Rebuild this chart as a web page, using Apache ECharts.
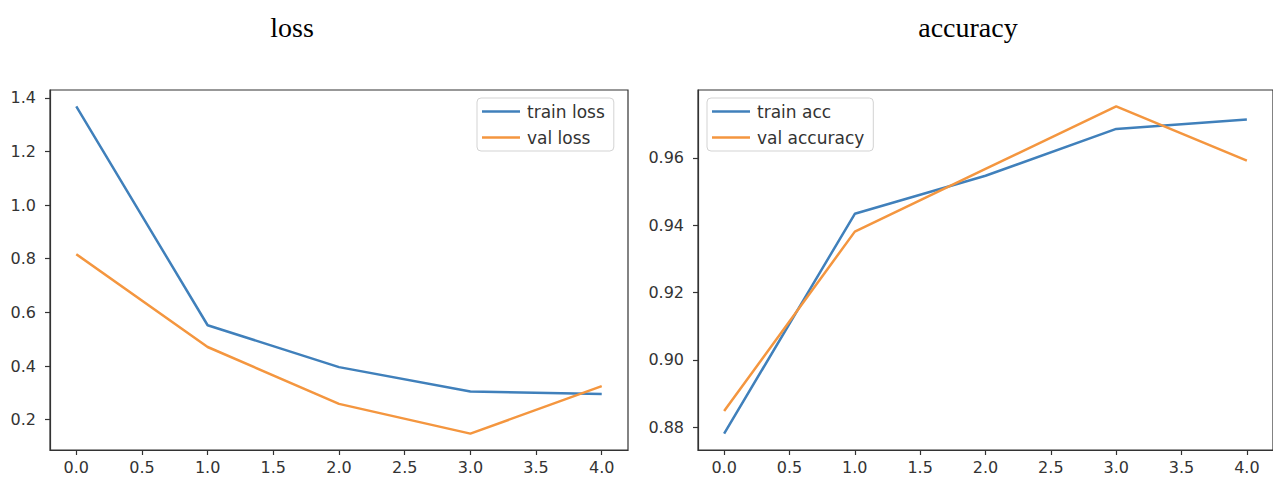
<!DOCTYPE html>
<html>
<head>
<meta charset="utf-8">
<script src="https://cdn.jsdelivr.net/npm/echarts@6/dist/echarts.min.js"></script>
<style>
html,body{margin:0;padding:0;background:#fff;}
#chart{width:1273px;height:477px;}
</style>
</head>
<body>
<div id="chart"></div>
<script>
// ---- data ----
const epochs = [0, 1, 2, 3, 4];
const trainLoss = [1.368, 0.552, 0.396, 0.305, 0.296];
const valLoss = [0.817, 0.471, 0.259, 0.148, 0.325];
const trainAcc = [0.8781, 0.9434, 0.9547, 0.9686, 0.9714];
const valAcc = [0.8848, 0.9381, 0.9567, 0.9753, 0.9592];
const xTicks = [0, 0.5, 1, 1.5, 2, 2.5, 3, 3.5, 4];
const lossTicks = [0.2, 0.4, 0.6, 0.8, 1.0, 1.2, 1.4];
const accTicks = [0.88, 0.90, 0.92, 0.94, 0.96];
const titles = ['loss', 'accuracy'];
const lossNames = ['train loss', 'val loss'];
const accNames = ['train acc', 'val accuracy'];

const BLUE = '#4080bb';
const ORANGE = '#f4963f';
const AX = '#333';
const FONT = 'DejaVu Sans';

function pad(arrs) {
  const all = [].concat(...arrs);
  const lo = Math.min(...all), hi = Math.max(...all);
  const m = (hi - lo) * 0.05;
  return [lo - m, hi + m];
}
const xr = pad([epochs]);
const lr = pad([trainLoss, valLoss]);
const ar = pad([trainAcc, valAcc]);
const pts = (ys) => epochs.map((x, i) => [x, ys[i]]);

function xAxis(idx) {
  return {
    type: 'value', gridIndex: idx, min: xr[0], max: xr[1],
    splitLine: {show: false},
    axisLine: {show: true, onZero: false, lineStyle: {color: AX, width: 1.2}},
    axisTick: {show: true, length: 5, lineStyle: {color: AX, width: 1.2}, customValues: xTicks},
    axisLabel: {customValues: xTicks, margin: 9, color: AX, fontFamily: FONT, fontSize: 16,
      formatter: v => v.toFixed(1)}
  };
}
function yAxis(idx, r, ticks, dec) {
  return {
    type: 'value', gridIndex: idx, min: r[0], max: r[1],
    splitLine: {show: false},
    axisLine: {show: true, onZero: false, lineStyle: {color: AX, width: 1.2}},
    axisTick: {show: true, length: 5, lineStyle: {color: AX, width: 1.2}, customValues: ticks},
    axisLabel: {customValues: ticks, margin: 14, color: AX, fontFamily: FONT, fontSize: 16,
      formatter: v => v.toFixed(dec)}
  };
}
function legend(left, names) {
  return {
    left: left, top: 98, orient: 'vertical',
    data: names,
    icon: 'rect', itemWidth: 38, itemHeight: 2.5, itemGap: 9,
    backgroundColor: 'rgba(255,255,255,0.85)',
    borderColor: '#d3d3d3', borderWidth: 1, borderRadius: 4,
    padding: [5, 9, 5, 5],
    textStyle: {color: AX, fontFamily: FONT, fontSize: 17, lineHeight: 17, padding: [0, 0, 0, 2]}
  };
}
function line(name, ys, color, idx) {
  return {
    name: name, type: 'line', xAxisIndex: idx, yAxisIndex: idx,
    data: pts(ys), showSymbol: false, symbol: 'none',
    lineStyle: {color: color, width: 2.5}, itemStyle: {color: color},
    emphasis: {disabled: true}
  };
}

const chart = echarts.init(document.getElementById('chart'), null, {renderer: 'svg'});
chart.setOption({
  animation: false,
  backgroundColor: '#fff',
  title: [
    {text: titles[0], left: 287, top: 8, textAlign: 'center',
     textStyle: {fontFamily: 'Liberation Serif', fontWeight: 'normal', fontSize: 28, color: '#000'}},
    {text: titles[1], left: 963, top: 8, textAlign: 'center',
     textStyle: {fontFamily: 'Liberation Serif', fontWeight: 'normal', fontSize: 28, color: '#000'}}
  ],
  grid: [
    {left: 50, top: 90, width: 578, height: 360, show: true, borderColor: AX, borderWidth: 1.2, containLabel: false},
    {left: 698, top: 90, width: 577, height: 360, show: true, borderColor: AX, borderWidth: 1.2, containLabel: false}
  ],
  legend: [legend(477, lossNames), legend(707, accNames)],
  xAxis: [xAxis(0), xAxis(1)],
  yAxis: [yAxis(0, lr, lossTicks, 1), yAxis(1, ar, accTicks, 2)],
  series: [
    line(lossNames[0], trainLoss, BLUE, 0),
    line(lossNames[1], valLoss, ORANGE, 0),
    line(accNames[0], trainAcc, BLUE, 1),
    line(accNames[1], valAcc, ORANGE, 1)
  ]
});
</script>
</body>
</html>
